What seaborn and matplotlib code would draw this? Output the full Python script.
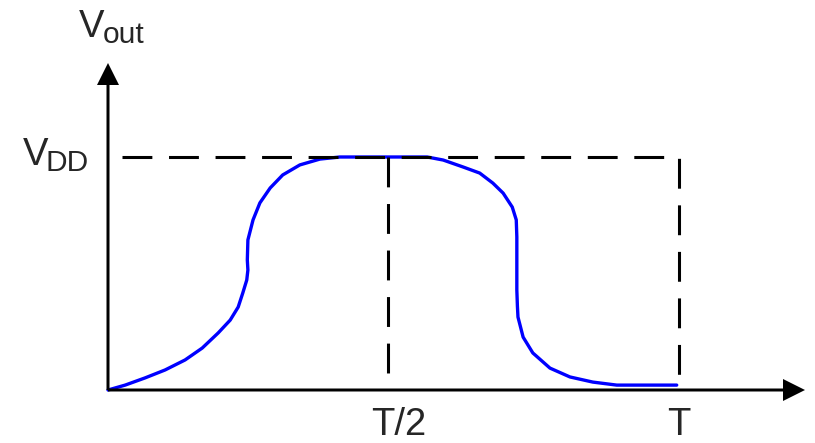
import matplotlib
matplotlib.use("Agg")
import matplotlib.pyplot as plt
import seaborn as sns
import pandas as pd
from matplotlib.patches import FancyArrow

sns.set_style("white")
plt.rcParams["font.family"] = ["Liberation Sans", "DejaVu Sans"]
plt.rcParams["lines.scale_dashes"] = False

# Output voltage over one period (time in units of T, voltage in units of VDD)
t_vals = [0.0, 0.030, 0.065, 0.100, 0.135, 0.165, 0.193, 0.214, 0.228, 0.236,
          0.243, 0.245, 0.244, 0.245, 0.254, 0.266, 0.284, 0.306, 0.336, 0.371,
          0.406, 0.490, 0.559, 0.587, 0.622, 0.651, 0.674, 0.692, 0.708, 0.715,
          0.716, 0.716, 0.717, 0.718, 0.727, 0.744, 0.774, 0.809, 0.849, 0.891,
          0.996]
v_vals = [0.0, 0.021, 0.052, 0.086, 0.129, 0.180, 0.245, 0.300, 0.356, 0.416,
          0.472, 0.515, 0.558, 0.644, 0.730, 0.803, 0.867, 0.923, 0.966, 0.991,
          1.0, 1.0, 1.0, 0.987, 0.957, 0.931, 0.888, 0.845, 0.785, 0.730,
          0.657, 0.429, 0.360, 0.313, 0.227, 0.159, 0.094, 0.056, 0.034, 0.021,
          0.021]

x_ticks = [0.5, 1.0]
x_tick_labels = ["T/2", "T"]
vdd_level = 1.0

W, H = 815, 443
fig = plt.figure(figsize=(W / 100, H / 100), dpi=100)
ax = fig.add_axes([0, 0, 1, 1])

# pixel layout of the diagram
x0_px, xT_px = 108, 679
y0_px, yV_px = 390, 157
sx = xT_px - x0_px
sy = y0_px - yV_px
ax.set_xlim(-x0_px / sx, (W - x0_px) / sx)
ax.set_ylim((y0_px - H) / sy, y0_px / sy)
ax.axis("off")

df = pd.DataFrame({"t": t_vals, "v": v_vals})
sns.lineplot(data=df, x="t", y="v", ax=ax, color="#0000FF", linewidth=2.4,
             estimator=None, sort=False, zorder=3)
for ln in ax.get_lines():
    ln.set_solid_joinstyle("round")
    ln.set_solid_capstyle("round")

dash = (0, (21.5, 12))
# VDD level and end-of-period guide
ax.plot([0.025, 1.0, 1.0], [vdd_level, vdd_level, 0], color="black",
        linewidth=2.2, linestyle=dash, zorder=4)
# half-period guide
ax.plot([0.49, 0.49], [vdd_level, 0], color="black", linewidth=2.2,
        linestyle=dash, zorder=4)

# axes with arrowheads
x_tip = (805 - x0_px) / sx
y_tip = (y0_px - 63) / sy
head_px = 22
ax.add_patch(FancyArrow(0, 0, x_tip, 0, width=3 / sy, head_width=head_px / sy,
                        head_length=head_px / sx, length_includes_head=True,
                        color="black", zorder=5, linewidth=0))
ax.add_patch(FancyArrow(0, 0, 0, y_tip, width=3 / sx, head_width=head_px / sx,
                        head_length=head_px / sy, length_includes_head=True,
                        color="black", zorder=5, linewidth=0))

def px(x, y):
    return x / W, 1 - y / H

big, small = 27.5, 21.5
fig.text(*px(79, 37), "V", fontsize=big, ha="left", va="baseline")
fig.text(*px(103, 43), "out", fontsize=small, ha="left", va="baseline")
fig.text(*px(23, 165), "V", fontsize=big, ha="left", va="baseline")
fig.text(*px(46, 171), "DD", fontsize=small, ha="left", va="baseline")
for xt, lab in zip(x_ticks, x_tick_labels):
    xpix = x0_px + xt * sx
    off = 5 if lab == "T/2" else 0
    fig.text(*px(xpix + off, 435), lab, fontsize=big, ha="center", va="baseline")

fig.savefig("out.png", dpi=100)
